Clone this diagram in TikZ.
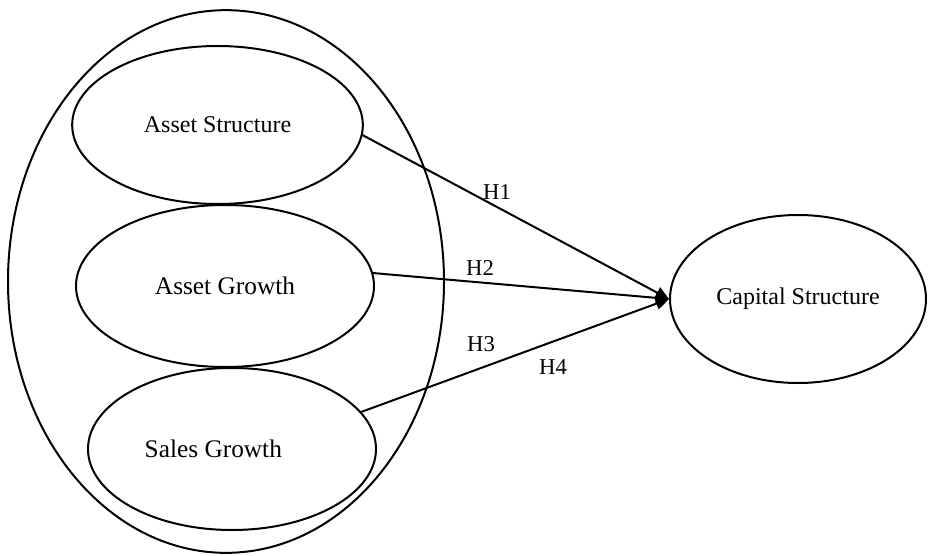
\documentclass[tikz,border=0pt]{standalone}
\usepackage{fontspec}
\setmainfont{Liberation Serif}
\usetikzlibrary{shapes.geometric,arrows.meta}

\begin{document}
\begin{tikzpicture}[x=0.75pt,y=0.75pt,yscale=-1,xscale=1,
  varbl/.style={draw,ellipse,line width=1.5pt,inner sep=0pt,font=\fontsize{19}{22}\selectfont},
  hyp/.style={line width=1.5pt,-{Triangle[length=10pt,width=9pt]}},
  hlab/.style={inner sep=0.75pt,font=\fontsize{17}{20}\selectfont}]
  \useasboundingbox (0,0) rectangle (928,556);

  %Ellipse: group of independent variables
  \node[varbl,minimum width=327pt,minimum height=407pt] (grp) at (226,281.5) {};
  %Ellipse: Asset Structure
  \node[varbl,minimum width=218pt,minimum height=118.5pt,font=\fontsize{18}{21}\selectfont] (as) at (217.5,125) {Asset Structure};
  %Ellipse: Asset Growth
  \node[varbl,minimum width=223.5pt,minimum height=121.5pt] (ag) at (225,286) {Asset Growth};
  %Ellipse: Sales Growth
  \node[varbl,minimum width=216pt,minimum height=121.5pt] (sg) at (232,449) {Sales Growth\hspace*{28pt}};
  %Ellipse: Capital Structure
  \node[varbl,minimum width=192pt,minimum height=126pt,font=\fontsize{18}{21}\selectfont] (cs) at (798,299) {Capital Structure};

  %Straight Lines
  \draw[hyp] (as.-4) -- (cs.west);
  \draw[hyp] (ag.5) -- (cs.west);
  \draw[hyp] (sg.16) -- (cs.west);

  % Text Node
  \node[hlab] (h1) at (497,192) {H1};
  % Text Node
  \node[hlab] (h2) at (480,268) {H2};
  % Text Node
  \node[hlab] (h3) at (481,344) {H3};
  % Text Node
  \node[hlab] (h4) at (553,367) {H4};
\end{tikzpicture}
\end{document}
